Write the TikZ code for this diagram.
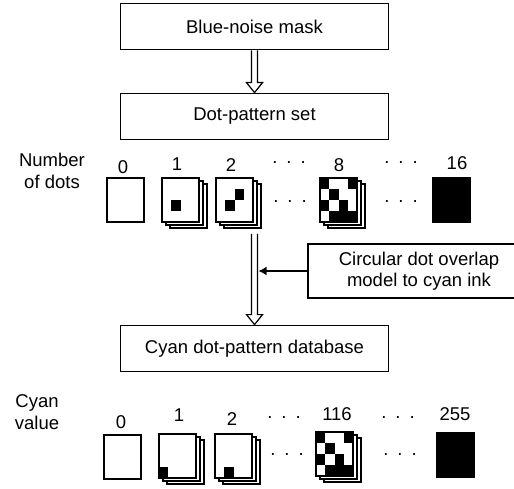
\documentclass[tikz,border=0pt]{standalone}
\usepackage{fontspec}
\setmainfont{Liberation Sans}
\usetikzlibrary{arrows.meta,calc}
\tikzset{
  flowbox/.style={draw, line width=1.8pt, minimum width=268pt, minimum height=46pt,
    inner sep=0pt, align=center},
  sheet/.style={draw, line width=1.2pt, fill=white},
  hollow/.style={draw, line width=1.2pt, fill=white, line join=miter},
  feed/.style={-{Latex[length=8pt,width=9pt]}, line width=1.8pt},
  ellip/.style={anchor=base, inner sep=0pt},
  rowlabel/.style={align=center, inner sep=0pt}
}
% open block arrow between two points
\newcommand{\openarrow}[2]{%
  \draw[hollow] ($(#1)+(-3,0)$) -- ($(#2)+(-3,-10)$) -- ($(#2)+(-8,-10)$) -- (#2)
    -- ($(#2)+(8,-10)$) -- ($(#2)+(3,-10)$) -- ($(#1)+(3,0)$);}
% single blank sheet, top-left corner given
\newcommand{\onesheet}[2]{\draw[sheet] (#1,#2) rectangle +(37,44);}
% stack of three sheets, the front one with black cells (col/row of a 4x4 grid)
\newcommand{\sheetstack}[3]{%
  \foreach \k in {2,1}
    \draw[sheet] ({#1+4*\k},{#2+3*\k}) rectangle +(37,44);
  \fill[white] (#1,#2) rectangle +(37,44);
  \foreach \c/\r in {#3}
    \fill ({#1+9.25*\c},{#2+11*\r}) rectangle +(9.25,11);
  \draw[line width=1.2pt] (#1,#2) rectangle +(37,44);}

\begin{document}
\begin{tikzpicture}[x=1pt, y=-1pt, every node/.style={font=\fontsize{18.5}{21.5}\selectfont}]
  \useasboundingbox (0,0) rectangle (514,489);
  \clip (0,0) rectangle (514,489);

  % main flow
  \node[flowbox] (mask) at (254.5,26.5) {Blue-noise mask};
  \node[flowbox] (dotset) at (254.5,116.5) {Dot-pattern set};
  \node[flowbox] (cyandb) at (254.5,348.5) {Cyan dot-pattern database};
  \node[flowbox, minimum width=222pt, minimum height=54pt] (overlap) at (419,271)
    {Circular dot overlap\\model to cyan ink};
  \coordinate (setout) at (254.5,234);
  \coordinate (join) at (258.5,271);

  \openarrow{mask.south}{dotset.north}
  \openarrow{setout}{cyandb.north}
  \draw[feed] (overlap.west) -- (join);

  % dot patterns
  \node[rowlabel] (ndots) at (52,171) {Number\\of dots};
  \node (d0) at (123,167) {0};
  \node (d1) at (177,164) {1};
  \node (d2) at (231,165) {2};
  \node (d8) at (339,165) {8};
  \node (d16) at (457,163) {16};
  \node[ellip] (dtopa) at (289,167.4) {·\hspace{8pt}·\hspace{8pt}·};
  \node[ellip] (dtopb) at (401,167.4) {·\hspace{8pt}·\hspace{8pt}·};
  \node[ellip] (dmida) at (290,206.4) {·\hspace{8pt}·\hspace{8pt}·};
  \node[ellip] (dmidb) at (401,206.4) {·\hspace{8pt}·\hspace{8pt}·};
  \onesheet{107}{178}
  \sheetstack{162}{178}{1/2}
  \sheetstack{216}{178}{1/2,2/1}
  \sheetstack{320}{178}{0/0,3/0,1/1,0/2,2/2,1/3,2/3,3/3}
  \draw[sheet, fill=black] (433,178) rectangle +(37,44);

  % cyan patterns
  \node[rowlabel] (cyanval) at (37,412) {Cyan\\value};
  \node (c0) at (121,422) {0};
  \node (c1) at (179,415) {1};
  \node (c2) at (232,419) {2};
  \node (c116) at (337,414) {116};
  \node (c255) at (455,414) {255};
  \node[ellip] (ctopa) at (284,422.4) {·\hspace{8pt}·\hspace{8pt}·};
  \node[ellip] (ctopb) at (398,422.4) {·\hspace{8pt}·\hspace{8pt}·};
  \node[ellip] (cmida) at (287,459.4) {·\hspace{8pt}·\hspace{8pt}·};
  \node[ellip] (cmidb) at (400,459.4) {·\hspace{8pt}·\hspace{8pt}·};
  \onesheet{104}{435}
  \sheetstack{159}{434}{0/3}
  \sheetstack{215}{434}{1/3}
  \sheetstack{316}{432}{0/0,3/0,1/1,0/2,2/2,1/3,2/3,3/3}
  \draw[sheet, fill=black] (437,433) rectangle +(37,44);
\end{tikzpicture}
\end{document}
